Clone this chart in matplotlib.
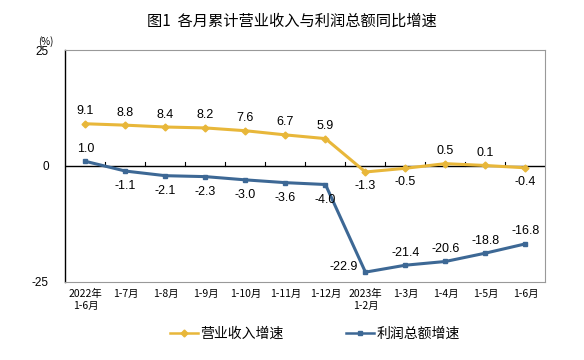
import matplotlib
matplotlib.use('Agg')
import matplotlib.pyplot as plt
import numpy as np

plt.rcParams['font.family'] = ['Noto Sans CJK SC', 'DejaVu Sans']

months = ['2022年\n1-6月', '1-7月', '1-8月', '1-9月', '1-10月', '1-11月', '1-12月',
          '2023年\n1-2月', '1-3月', '1-4月', '1-5月', '1-6月']
revenue = [9.1, 8.8, 8.4, 8.2, 7.6, 6.7, 5.9, -1.3, -0.5, 0.5, 0.1, -0.4]
profit = [1.0, -1.1, -2.1, -2.3, -3.0, -3.6, -4.0, -22.9, -21.4, -20.6, -18.8, -16.8]

# label placement: 1 above, -1 below, 0 left
rev_pos = [1, 1, 1, 1, 1, 1, 1, -1, -1, 1, 1, -1]
prof_pos = [1, -1, -1, -1, -1, -1, -1, 0, 1, 1, 1, 1]

yellow = '#E8B73A'
blue = '#3D6895'
num_font = 'Liberation Sans'

fig = plt.figure(figsize=(5.84, 3.60), dpi=100)
ax = fig.add_axes([0.112, 0.217, 0.822, 0.644])

x = np.arange(len(months))
ax.plot(x, revenue, color=yellow, lw=2.2, marker='D', ms=3.5, label='营业收入增速')
ax.plot(x, profit, color=blue, lw=2.2, marker='s', ms=3.5, label='利润总额增速')

ax.axhline(0, color='black', lw=1.0, zorder=1)
for b in np.arange(0.5, len(months) - 0.5):
    ax.plot([b, b], [0, 0.8], color='black', lw=0.8, zorder=1)

for i, v in enumerate(revenue):
    off = 9 if rev_pos[i] > 0 else -10
    ax.annotate(f'{v:.1f}', (i, v), xytext=(0, off), textcoords='offset points',
                ha='center', va='center', fontsize=9, family=num_font)
for i, v in enumerate(profit):
    if prof_pos[i] == 0:
        ax.annotate(f'{v:.1f}', (i, v), xytext=(-16, 4), textcoords='offset points',
                    ha='center', va='center', fontsize=9, family=num_font)
    else:
        off = 9 if prof_pos[i] > 0 else -11
        ax.annotate(f'{v:.1f}', (i, v), xytext=(0, off), textcoords='offset points',
                    ha='center', va='center', fontsize=9, family=num_font)

ax.set_xlim(-0.5, len(months) - 0.5)
ax.set_ylim(-25, 25)
ax.set_yticks([-25, 0, 25])
ax.set_yticklabels(['-25', '0', '25'], fontsize=8.5, family=num_font)
ax.set_xticks(x)
ax.set_xticklabels(months, fontsize=7.5, linespacing=1.3)
ax.tick_params(axis='x', length=0, pad=5)
ax.tick_params(axis='y', length=0, pad=12)

for s in ['top', 'right', 'bottom']:
    ax.spines[s].set_color('#999999')
    ax.spines[s].set_linewidth(0.8)
ax.spines['left'].set_color('black')
ax.spines['left'].set_linewidth(1.0)

fig.text(0.079, 0.885, '(%)', fontsize=7, ha='center', va='center')
fig.text(0.5, 0.94, '图1  各月累计营业收入与利润总额同比增速', fontsize=11, ha='center', va='center')

leg = ax.legend(loc='center', bbox_to_anchor=(0.52, -0.225), ncol=2, frameon=False,
                fontsize=10, handlelength=2.0, handletextpad=0.2, columnspacing=4.5)
for h in leg.legend_handles:
    h.set_linewidth(1.8)

fig.savefig('out.png', dpi=100)
